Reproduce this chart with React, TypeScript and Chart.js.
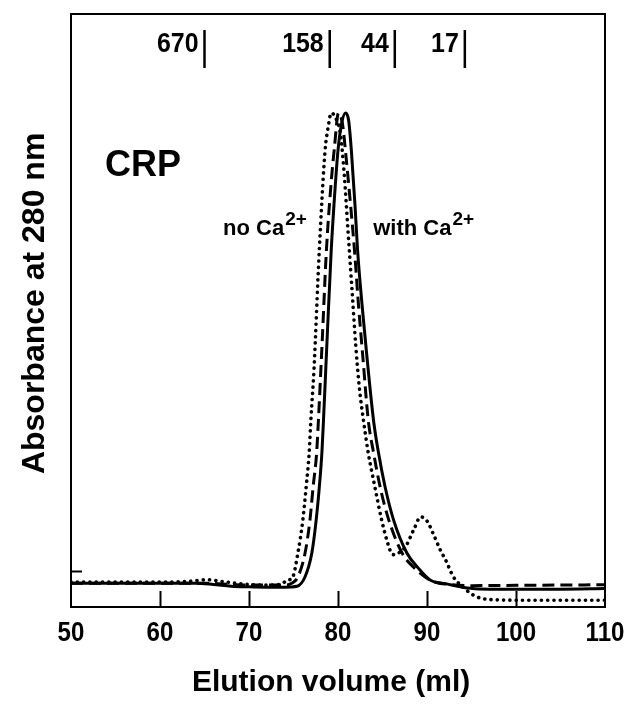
import React, { useEffect, useRef } from 'react';
import { Chart, registerables } from 'chart.js';

Chart.register(...registerables);

// x-axis tick values (elution volume, ml)
const xTickValues = [50, 60, 70, 80, 90, 100, 110];
// y-axis tick (absorbance zero)
const yTickValues = [0];

// axis titles
const xTitle = 'Elution volume (ml)';
const yTitle = 'Absorbance at 280 nm';

// molecular-weight markers (kDa) along the top
const markerLabels = ['670', '158', '44', '17'];
const markerPositions = [65.0, 79.07, 86.38, 94.25];

// solid trace
const solidX = [50, 55, 60, 64, 66, 68, 70, 72, 74, 75.4, 76.3, 77.06, 77.55, 77.9, 78.19, 78.37, 78.8, 79.24, 79.6, 80.0, 80.4, 80.85, 81.2, 81.5, 81.9, 82.2, 82.7, 83.2, 83.99, 84.55, 85.3, 86.24, 87.74, 89.0, 90.4, 92.2, 94.9, 97, 100, 105, 110];
const solidY = [-2.0, -2.0, -2.0, -2.0, -2.2, -2.5, -2.6, -2.65, -2.65, -2.5, -0.9, 3.1, 8.7, 14.2, 20, 25.5, 40, 54.2, 63, 71, 75.5, 77.3, 76, 71, 62, 54.2, 45, 37, 25.5, 20, 14.2, 8.7, 3.1, 0.6, -1.5, -2.1, -2.85, -3.0, -3.0, -3.0, -2.9];

// dashed trace
const dashedX = [50, 55, 60, 65, 68, 70, 72, 74, 74.8, 75.5, 76.3, 76.85, 77.2, 77.6, 77.8, 78.2, 78.7, 79.2, 79.6, 80.05, 80.5, 80.9, 81.4, 81.85, 82.3, 82.8, 83.4, 84.0, 84.74, 85.7, 87.2, 88.5, 90.4, 92.5, 95, 100, 105, 110];
const dashedY = [-2.0, -2.0, -2.0, -2.0, -2.2, -2.3, -2.3, -2.3, -2.0, -0.9, 3.1, 8.7, 14.2, 20, 25.5, 38, 54.2, 65, 71.5, 77.3, 75.5, 70, 62, 54.2, 45, 36, 25.5, 20, 14.2, 8.7, 3.1, 0.7, -1.5, -2.2, -2.4, -2.35, -2.3, -2.25];

// dotted trace
const dottedX = [50, 55, 60, 63, 65.3, 67, 68.5, 70, 72, 73.5, 74.3, 74.93, 75.49, 76.05, 76.42, 76.76, 76.95, 77.3, 77.9, 78.55, 78.9, 79.24, 79.8, 80.3, 80.7, 81.1, 81.55, 82.0, 82.4, 82.86, 83.4, 84.15, 84.9, 85.5, 86.0, 86.4, 86.9, 87.6, 88.5, 89.3, 90.0, 90.8, 91.5, 92.1, 93.0, 93.8, 95.0, 96.0, 98, 100, 105, 110];
const dottedY = [-1.8, -1.8, -1.8, -1.7, -1.4, -1.7, -2.0, -2.2, -2.3, -2.2, -1.5, -0.9, 3.1, 8.7, 14.2, 20, 25.5, 34, 54.2, 71, 75, 77.3, 76.3, 73.5, 67, 58, 48, 38, 31, 25.5, 20, 14.2, 8.7, 5.2, 3.1, 2.8, 3.2, 4.2, 7.0, 9.2, 8.5, 6.0, 3.6, 1.9, -1.0, -2.3, -3.8, -4.5, -4.8, -4.85, -4.85, -4.85];

const SANS = '"Liberation Sans", Arial, Helvetica, sans-serif';

export default function App() {
  const ref = useRef<HTMLCanvasElement | null>(null);

  useEffect(() => {
    document.body.style.margin = '0';
    const canvas = ref.current;
    if (!canvas) return;
    const ctx2 = canvas.getContext('2d');
    if (!ctx2) return;

    const toPts = (xs: number[], ys: number[]) => xs.map((x, i) => ({ x, y: ys[i] }));

    const narrowText = (ctx: any, txt: string, x: number, y: number, sx: number) => {
      ctx.save();
      ctx.translate(x, y);
      ctx.scale(sx, 1);
      ctx.fillText(txt, 0, 0);
      ctx.restore();
    };

    const overlay = {
      id: 'overlay',
      afterDatasetsDraw(chart: any) {
        const { ctx, chartArea } = chart;
        const xs = chart.scales.x;
        const ys = chart.scales.y;
        const { left, right, top, bottom } = chartArea;
        ctx.save();
        ctx.strokeStyle = '#000';
        ctx.fillStyle = '#000';
        ctx.lineCap = 'butt';
        // frame
        ctx.lineWidth = 2;
        ctx.strokeRect(left, top, right - left, bottom - top);
        // inward x ticks + labels
        ctx.font = `bold 28px ${SANS}`;
        ctx.textAlign = 'center';
        ctx.textBaseline = 'middle';
        xs.ticks.forEach((t: any) => {
          const v = t.value;
          const px = xs.getPixelForValue(v);
          if (v !== xs.min && v !== xs.max) {
            const rx = Math.round(px) + 0.5;
            ctx.beginPath();
            ctx.moveTo(rx, bottom);
            ctx.lineTo(rx, bottom - 16);
            ctx.stroke();
          }
          narrowText(ctx, String(v), px, bottom + 26, 0.86);
        });
        // axis titles
        ctx.font = `bold 30px ${SANS}`;
        ctx.fillText(xTitle, left + (right - left) * 0.487, bottom + 76);
        ctx.save();
        ctx.translate(35, top + (bottom - top) * 0.488);
        ctx.rotate(-Math.PI / 2);
        ctx.font = `bold 32px ${SANS}`;
        ctx.fillText(yTitle, 0, 0);
        ctx.restore();
        // inward y tick
        yTickValues.forEach((v) => {
          const py = Math.round(ys.getPixelForValue(v)) + 0.5;
          ctx.beginPath();
          ctx.moveTo(left, py);
          ctx.lineTo(left + 11, py);
          ctx.stroke();
        });
        // MW markers
        ctx.lineWidth = 2.5;
        ctx.font = `bold 28px ${SANS}`;
        ctx.textAlign = 'right';
        ctx.textBaseline = 'alphabetic';
        markerPositions.forEach((m, i) => {
          const px = xs.getPixelForValue(m);
          ctx.beginPath();
          ctx.moveTo(px, top + 16);
          ctx.lineTo(px, top + 54);
          ctx.stroke();
          narrowText(ctx, markerLabels[i], px - 6, top + 38, 0.89);
        });
        // CRP label
        ctx.textAlign = 'left';
        ctx.font = `bold 36px ${SANS}`;
        ctx.fillText('CRP', xs.getPixelForValue(53.82), ys.getPixelForValue(66.7));
        // Ca labels with superscript
        const drawCa = (txt: string, xv: number, yv: number) => {
          const px = xs.getPixelForValue(xv);
          const py = ys.getPixelForValue(yv);
          ctx.font = `bold 22px ${SANS}`;
          ctx.fillText(txt, px, py);
          const w = ctx.measureText(txt).width;
          ctx.font = `bold 19px ${SANS}`;
          ctx.fillText('2+', px + w + 1, py - 10);
        };
        drawCa('no Ca', 67.09, 56.7);
        drawCa('with Ca', 83.96, 56.7);
        ctx.restore();
      },
    };

    const chart = new Chart(ctx2, {
      type: 'line',
      data: {
        datasets: [
          {
            label: 'solid',
            data: toPts(solidX, solidY),
            borderColor: '#000',
            borderWidth: 3,
            pointRadius: 0,
            fill: false,
            cubicInterpolationMode: 'monotone',
          },
          {
            label: 'dashed',
            data: toPts(dashedX, dashedY),
            borderColor: '#000',
            borderWidth: 3,
            borderDash: [12, 6],
            pointRadius: 0,
            fill: false,
            cubicInterpolationMode: 'monotone',
          },
          {
            label: 'dotted',
            data: toPts(dottedX, dottedY),
            borderColor: '#000',
            borderWidth: 3.6,
            borderDash: [0.1, 6.2],
            borderCapStyle: 'round',
            pointRadius: 0,
            fill: false,
            cubicInterpolationMode: 'monotone',
          },
        ],
      },
      options: {
        responsive: false,
        animation: false,
        devicePixelRatio: 1,
        layout: { padding: { top: 14, right: 21, left: 0, bottom: 0 } },
        plugins: {
          legend: { display: false },
          tooltip: { enabled: false },
        },
        scales: {
          x: {
            type: 'linear',
            min: 50,
            max: 110,
            afterBuildTicks: (scale: any) => {
              scale.ticks = xTickValues.map((v) => ({ value: v }));
            },
            afterFit: (scale: any) => {
              scale.height = 100;
              scale.paddingLeft = 0;
              scale.paddingRight = 0;
            },
            grid: { display: false, drawTicks: false },
            border: { display: false },
            ticks: { display: false },
            title: { display: false },
          },
          y: {
            type: 'linear',
            min: -6,
            max: 94,
            afterFit: (scale: any) => {
              scale.width = 71;
              scale.paddingTop = 0;
              scale.paddingBottom = 0;
            },
            grid: { display: false, drawTicks: false },
            border: { display: false },
            ticks: { display: false },
            title: { display: false },
          },
        },
      },
      plugins: [overlay],
    } as any);

    return () => chart.destroy();
  }, []);

  return (
    <div style={{ position: 'absolute', left: 0, top: 0, width: 626, height: 707, background: '#fff' }}>
      <canvas ref={ref} width={626} height={707} style={{ width: 626, height: 707, display: 'block' }} />
    </div>
  );
}
